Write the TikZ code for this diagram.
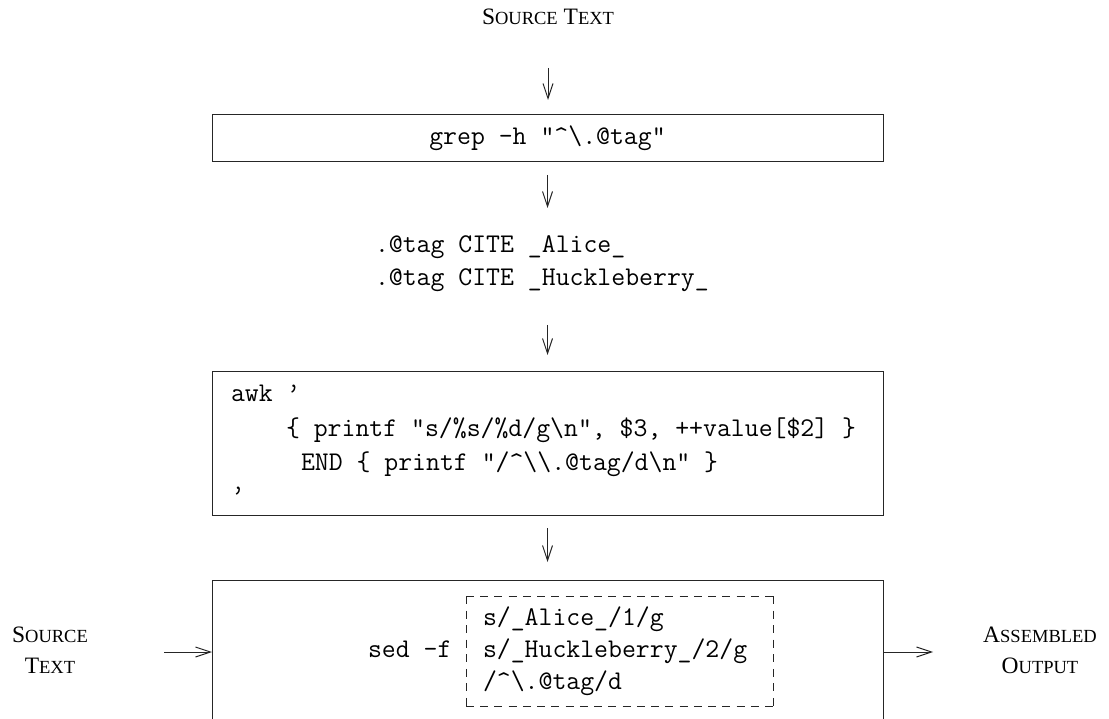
\documentclass[tikz,border=0pt]{standalone}
\usepackage{fontspec}
\setmainfont{Liberation Serif}
\usetikzlibrary{arrows.meta}
\newcommand\lsc{\fontsize{18.5}{18.5}\selectfont}
\newcommand\codefont{\ttfamily\fontsize{27}{33}\selectfont}
\begin{document}
\begin{tikzpicture}[x=1pt,y=-1pt,
  every node/.style={inner sep=0pt, outer sep=0pt},
  lab/.style={font=\fontsize{23.5}{31}\selectfont, align=center},
  code/.style={font=\codefont, anchor=base west},
  frame/.style={draw=black!85, line width=1pt, minimum width=671pt},
  arr/.style={draw=black!85, line width=1pt, -{Straight Barb[length=15pt,width=10pt]}},
  dashh/.style={draw=black!85, line width=1pt, dash pattern=on 8pt off 6.24pt},
  dashv/.style={draw=black!85, line width=1pt, dash pattern=on 8pt off 6.57pt}
]
\useasboundingbox (0,0) rectangle (1109,719);
\clip (0,0) rectangle (1109,719);

\node[lab, anchor=base] (title) at (548,25) {S{\lsc OURCE} T{\lsc EXT}};

\node[frame, minimum height=47pt, font=\codefont] (grep) at (547.5,138.5) {grep -h "\textasciicircum\textbackslash.@tag"};

\node[code] (tag1) at (375,253) {.@tag CITE \_Alice\_};
\node[code] (tag2) at (375,286) {.@tag CITE \_Huckleberry\_};

\node[frame, minimum height=143pt] (awk) at (547.5,443.5) {};
\node[code] (awk1) at (231,402) {awk ’};
\node[code] (awk2) at (286,436) {\{ printf "s/\%s/\%d/g\textbackslash n", \$3, ++value[\$2] \}};
\node[code] (awk3) at (301,470) {END \{ printf "/\textasciicircum\textbackslash\textbackslash.@tag/d\textbackslash n" \}};
\node[code] (awk4) at (231,503) {’};

\node[frame, minimum height=144pt] (sed) at (547.5,652) {};
\node[code] (sedcmd) at (368,657) {sed -f};
\node[minimum width=307pt, minimum height=110pt] (script) at (619.5,651) {};
\draw[dashh] (script.north west) -- (script.north east);
\draw[dashh] (script.south west) -- (script.south east);
\draw[dashv] (script.north west) -- (script.south west);
\draw[dashv] (script.north east) -- (script.south east);
\node[code] (s1) at (483,625) {s/\_Alice\_/1/g};
\node[code] (s2) at (483,657) {s/\_Huckleberry\_/2/g};
\node[code] (s3) at (483,689) {/\textasciicircum\textbackslash.@tag/d};

\node[lab] (srcL) at (50,650) {S{\lsc OURCE}\\T{\lsc EXT}};
\node[lab] (outR) at (1040,650) {A{\lsc SSEMBLED}\\O{\lsc UTPUT}};

\draw[arr, shorten <=43pt, shorten >=15pt] (title.base) -- (title.base |- grep.north);
\draw[arr, shorten <=13pt, shorten >=45pt] (grep.south) -- (grep.south |- tag1.base);
\draw[arr, shorten <=39pt, shorten >=17pt] (awk.north |- tag2.base) -- (awk.north);
\draw[arr, shorten <=13pt, shorten >=18pt] (awk.south) -- (sed.north);
\draw[arr, shorten <=114pt] (srcL.center |- sed.west) -- (sed.west);
\draw[arr, shorten >=107pt] (sed.east) -- (sed.east -| outR.center);
\end{tikzpicture}
\end{document}
